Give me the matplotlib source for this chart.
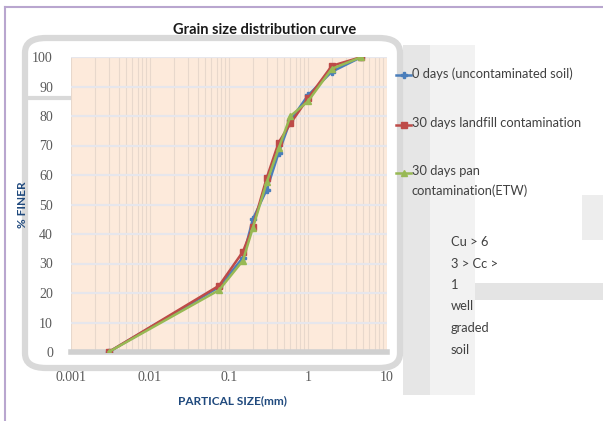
import matplotlib
matplotlib.use("Agg")
import matplotlib.pyplot as plt
from matplotlib.patches import FancyBboxPatch, Rectangle
from matplotlib.lines import Line2D
from matplotlib.ticker import LogLocator, FixedLocator, NullFormatter

plt.rcParams['font.family'] = ['Lato', 'DejaVu Sans']

# ---- data ----
particle_size = [0.003, 0.075, 0.15, 0.2, 0.3, 0.425, 0.6, 1, 2, 4.75]
finer_0days = [0, 22, 32, 45, 55, 67.5, 78.5, 87, 95, 100]
finer_landfill = [0, 22.5, 34, 42.5, 59, 71, 77.5, 86, 97, 100]
finer_pan = [0, 21, 31, 42, 57.5, 69, 80, 85, 96, 100]
series_labels = ["0 days (uncontaminated soil)",
                 "30 days landfill contamination",
                 "30 days pan\ncontamination(ETW)"]
x_ticks = [0.001, 0.01, 0.1, 1, 10]
x_tick_labels = ["0.001", "0.01", "0.1", "1", "10"]
y_ticks = list(range(0, 101, 10))
note_text = "Cu > 6\n3 > Cc >\n1\nwell\ngraded\nsoil"

W, H = 603, 421
fig = plt.figure(figsize=(W / 100, H / 100), dpi=100)
fig.patch.set_facecolor('white')


def fx(px):
    return px / W


def fy(py):
    return 1 - py / H


def rect(x0, y0, x1, y1, color):
    fig.add_artist(Rectangle((fx(x0), fy(y1)), fx(x1) - fx(x0), fy(y0) - fy(y1),
                             transform=fig.transFigure, facecolor=color,
                             edgecolor='none', zorder=0))


# decorative gray background artifacts
rect(403, 45, 430, 395, '#e6e6e6')
rect(430, 45, 475, 395, '#f2f2f2')
rect(475, 283, 603, 300, '#e4e4e4')
rect(582, 195, 603, 240, '#ededed')
deco = FancyBboxPatch((fx(25), fy(368)), fx(400) - fx(25), fy(38) - fy(368),
                      boxstyle="round,pad=0,rounding_size=0.035",
                      transform=fig.transFigure, facecolor='none',
                      edgecolor='#d9d9d9', linewidth=4.5, zorder=0)
fig.add_artist(deco)
fig.add_artist(Line2D([fx(30), fx(70)], [fy(98), fy(98)], transform=fig.transFigure,
                      color='#d9d9d9', linewidth=3, zorder=0))
# outer page border
fig.add_artist(Line2D([fx(5), fx(5)], [fy(7), fy(421)], transform=fig.transFigure,
                      color='#b9a6cf', linewidth=1.5))
fig.add_artist(Line2D([fx(5), fx(603)], [fy(7), fy(7)], transform=fig.transFigure,
                      color='#b9a6cf', linewidth=1.5))

left, right, top, bottom = 71, 387, 57, 352
ax = fig.add_axes([fx(left), fy(bottom), fx(right) - fx(left), fy(top) - fy(bottom)])
ax.set_facecolor('#fdeadb')
ax.set_xscale('log')
ax.set_xlim(0.001, 10)
ax.set_ylim(0, 100)

ax.xaxis.set_major_locator(FixedLocator(x_ticks))
ax.set_xticklabels(x_tick_labels)
ax.xaxis.set_minor_locator(LogLocator(base=10, subs=range(2, 10)))
ax.xaxis.set_minor_formatter(NullFormatter())
ax.set_yticks(y_ticks)

ax.grid(True, which='major', axis='y', color='#e6e6ec', linewidth=1.6)
ax.grid(True, which='both', axis='x', color='#e8d8cc', linewidth=0.8)
ax.set_axisbelow(True)

for s in ['top', 'right', 'left']:
    ax.spines[s].set_visible(False)
ax.spines['bottom'].set_color('#d0d0d0')
ax.spines['bottom'].set_linewidth(4)

ax.tick_params(axis='both', which='both', length=0, colors='#5a5a5a', labelsize=10)
ax.tick_params(axis='x', pad=14)
ax.tick_params(axis='y', pad=13)
for lab in ax.get_xticklabels() + ax.get_yticklabels():
    lab.set_fontfamily(['Liberation Serif', 'DejaVu Serif'])

ax.plot(particle_size, finer_0days, color='#4a7ebb', marker='P', markersize=4.5,
        linewidth=1.8, zorder=3)
ax.plot(particle_size, finer_landfill, color='#be4b48', marker='s', markersize=4,
        linewidth=1.8, zorder=4)
ax.plot(particle_size, finer_pan, color='#98b954', marker='^', markersize=4.5,
        linewidth=1.8, zorder=5)

fig.text(fx(265), fy(30), "Grain size distribution curve", ha='center', va='center',
         fontsize=10.5, fontweight='bold', color='#1a1a1a')
fig.text(fx(22), fy(205), "% FINER", rotation=90, ha='center', va='center',
         fontsize=8.5, fontweight='bold', color='#1f497d')
fig.text(fx(232), fy(401), "PARTICAL SIZE(mm)", ha='center', va='center',
         fontsize=8.5, fontweight='bold', color='#1f497d')

# legend
leg_y = [75, 125, 173]
colors = ['#4a7ebb', '#be4b48', '#98b954']
markers = ['P', 's', '^']
for yy, c, m, lab in zip(leg_y, colors, markers, series_labels):
    fig.add_artist(Line2D([fx(396), fx(411)], [fy(yy), fy(yy)], transform=fig.transFigure,
                          color=c, linewidth=1.8))
    fig.add_artist(Line2D([fx(403.5)], [fy(yy)], transform=fig.transFigure,
                          color=c, marker=m, markersize=4.5, linestyle='none'))
    first_line_top = yy - 8
    fig.text(fx(412), fy(first_line_top), lab, ha='left', va='top',
             fontsize=9.3, color='#404040', linespacing=1.75)

fig.text(fx(451), fy(236), note_text, ha='left', va='top', fontsize=9.3,
         color='#404040', linespacing=1.95)

fig.savefig("out.png", dpi=100)
